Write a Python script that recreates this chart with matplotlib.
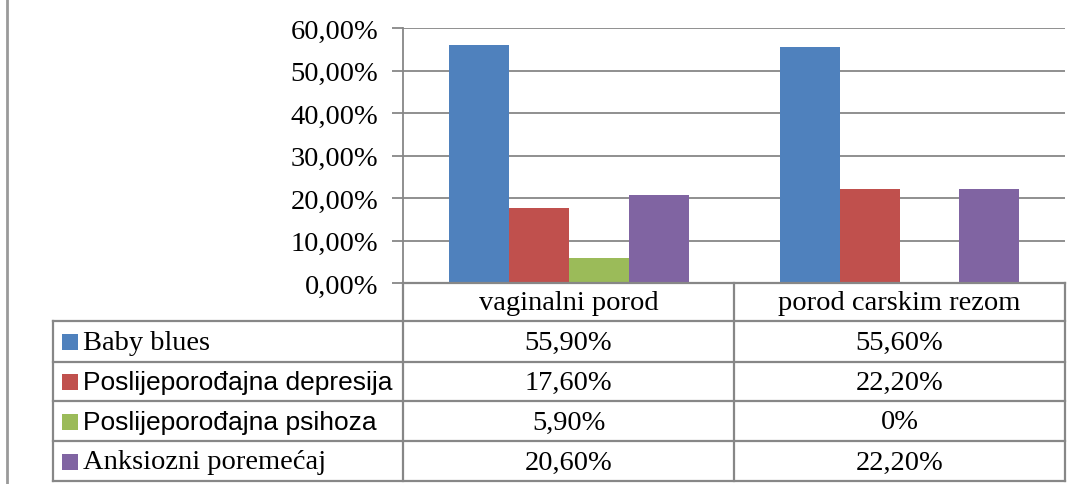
import matplotlib
matplotlib.use("Agg")
import matplotlib.pyplot as plt
import numpy as np

# ── data ────────────────────────────────────────────────────────────────────
categories = ["vaginalni porod", "porod carskim rezom"]
series = ["Baby blues", "Poslijeporođajna depresija", "Poslijeporođajna psihoza", "Anksiozni poremećaj"]
baby_blues = [55.9, 55.6]
depresija = [17.6, 22.2]
psihoza = [5.9, 0.0]
anksioznost = [20.6, 22.2]
yticks = [0, 10, 20, 30, 40, 50, 60]

values = [baby_blues, depresija, psihoza, anksioznost]
colors = ["#4F81BD", "#C0504D", "#9BBB59", "#8064A2"]
label_fonts = ["Liberation Serif", "Liberation Sans", "Liberation Sans", "Liberation Serif"]
GRID = "#878787"
W, H = 1079, 485
FS = 20.5
FS_SANS = 19


def pct(v):
    return "0%" if v == 0 else f"{v:.2f}%".replace(".", ",")


fig = plt.figure(figsize=(W / 100, H / 100), dpi=100)
fig.patch.set_facecolor("white")

# ── bar chart (plot area in pixels: x 403-1065, y 29-284) ────────────────────
L, R, T, B = 403, 1065, 29, 284
ax = fig.add_axes([L / W, 1 - B / H, (R - L) / W, (B - T) / H])
bw = 60 / 331
x = np.arange(len(categories)) + 0.5
for i, (vals, col) in enumerate(zip(values, colors)):
    ax.bar(x + (i - 1.5) * bw, vals, width=bw, color=col, zorder=3)
ax.set_xlim(0, len(categories))
ax.set_ylim(0, 60)
ax.set_yticks(yticks)
ax.set_yticklabels([f"{v:.2f}%".replace(".", ",") for v in yticks],
                   fontsize=FS, family="Liberation Serif")
ax.yaxis.grid(True, color=GRID, lw=1.3, zorder=0)
ax.tick_params(axis="y", length=8, width=1.3, color=GRID, pad=10)
ax.tick_params(axis="x", length=0, labelbottom=False)
for s in ["top", "right", "bottom"]:
    ax.spines[s].set_visible(False)
ax.spines["left"].set_color(GRID)
ax.spines["left"].set_linewidth(1.3)

# ── data table below the plot (overlay axes in pixel coordinates) ────────────
tx = fig.add_axes([0, 0, 1, 1], facecolor="none")
tx.set_xlim(0, W)
tx.set_ylim(H, 0)
tx.axis("off")
col_x = [53, 403, 734, 1065]
row_y = [284, 322, 363, 402, 442, 482]
lk = dict(color=GRID, lw=1.6)
# page border on the left
tx.plot([7, 7], [0, H], color="#9a9a9a", lw=2)
# header row (no cell on the left)
tx.plot([403, 1065], [row_y[0], row_y[0]], **lk)
for yy in row_y[1:]:
    tx.plot([col_x[0], col_x[-1]], [yy, yy], **lk)
tx.plot([col_x[0], col_x[0]], [row_y[1], row_y[-1]], **lk)
for xx in col_x[1:]:
    tx.plot([xx, xx], [row_y[0], row_y[-1]], **lk)

for j, cat in enumerate(categories):
    cx = (col_x[j + 1] + col_x[j + 2]) / 2
    tx.text(cx, (row_y[0] + row_y[1]) / 2 + 1, cat, ha="center", va="center",
            fontsize=FS, family="Liberation Serif")

for i, (name, vals, col, fnt) in enumerate(zip(series, values, colors, label_fonts)):
    cy = (row_y[i + 1] + row_y[i + 2]) / 2
    tx.scatter([69.5], [cy + 0.5], marker="s", s=120, color=col, linewidths=0)
    tx.text(83, cy + 1, name, ha="left", va="center",
            fontsize=FS if fnt.endswith("Serif") else FS_SANS, family=fnt)
    for j, v in enumerate(vals):
        cx = (col_x[j + 1] + col_x[j + 2]) / 2
        tx.text(cx, cy + 1, pct(v), ha="center", va="center", fontsize=FS, family="Liberation Serif")

fig.savefig("out.png", dpi=100, facecolor="white")
